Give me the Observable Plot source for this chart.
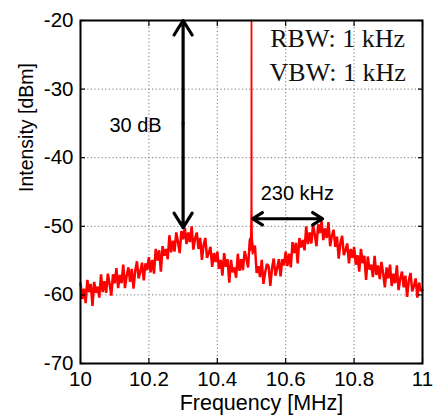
<!DOCTYPE html>
<html>
<head>
<meta charset="utf-8">
<script src="https://cdn.jsdelivr.net/npm/d3@7"></script>
<script src="https://cdn.jsdelivr.net/npm/@observablehq/plot@0.6"></script>
<style>
  html, body { margin: 0; padding: 0; background: #fff; }
  #chart svg { font-family: "Liberation Sans", Arial, sans-serif; }
</style>
</head>
<body>
<div id="chart"></div>
<script>
// Spectrum trace: 201 samples, 10.000 .. 11.000 MHz, step 5 kHz
const freqStart = 10, freqStep = 0.005;
const intensity = [
  -58.3, -60.6, -59.1, -61.2, -57.8, -59.6, -58.4, -61.6, -58.1, -59.7,
  -58.8, -60.4, -57.0, -59.6, -58.0, -59.7, -56.9, -58.4, -60.1, -57.0,
  -58.3, -56.1, -59.0, -57.1, -58.3, -55.6, -59.0, -57.2, -56.0, -58.1,
  -56.2, -59.1, -56.5, -55.1, -57.6, -56.6, -55.3, -57.9, -55.4, -56.4,
  -54.5, -56.7, -54.9, -56.9, -53.3, -55.0, -53.5, -56.6, -52.9, -54.3,
  -53.3, -54.8, -51.3, -53.8, -52.1, -53.7, -50.9, -52.3, -53.9, -50.7,
  -51.9, -50.2, -52.6, -50.9, -52.3, -50.0, -53.4, -51.8, -50.9, -53.3,
  -51.7, -54.9, -52.7, -51.7, -54.6, -53.9, -53.0, -55.9, -53.9, -55.2,
  -53.7, -56.2, -54.9, -57.2, -53.9, -55.9, -54.8, -58.2, -54.9, -56.7,
  -56.0, -57.5, -54.0, -56.5, -54.8, -56.4, -53.6, -54.7, -56.0, -52.0,
  -51.5,
  -53.9, -52.8, -56.8, -55.8, -57.4, -54.9, -58.4, -56.7, -55.5,
  -55.8, -58.7, -56.1, -54.7, -57.2, -56.1, -54.8, -57.3, -54.8, -55.7,
  -53.7, -55.8, -54.0, -56.0, -52.3, -53.9, -52.4, -55.4, -51.7, -53.1,
  -52.0, -53.5, -50.0, -52.6, -50.9, -52.5, -49.8, -51.2, -52.9, -49.7,
  -51.0, -49.2, -52.0, -50.3, -51.7, -49.4, -52.9, -51.4, -50.5, -53.0,
  -51.5, -54.7, -52.4, -51.4, -54.2, -53.5, -52.5, -55.4, -53.3, -54.6,
  -53.0, -55.6, -54.2, -56.6, -53.3, -55.4, -54.3, -57.8, -54.4, -56.3,
  -55.6, -57.4, -54.3, -57.1, -55.7, -57.7, -55.2, -56.9, -58.9, -56.0,
  -57.6, -55.6, -58.7, -56.9, -58.3, -55.7, -59.3, -57.6, -56.6, -58.9,
  -57.2, -60.3, -57.9, -56.8, -59.5, -58.7, -57.6, -60.4, -58.2, -59.4, -59.3
];

// Carrier spike at 10.5 MHz
const spikeFreq = [10.497, 10.4985, 10.4995, 10.5, 10.5005, 10.5015, 10.503];
const spikeLevel = [-53.5, -50.5, -47.0, -20.0, -47.5, -51.0, -54.0];

// Axis ticks
const xTicks = [10, 10.2, 10.4, 10.6, 10.8, 11];
const yTicks = [-70, -60, -50, -40, -30, -20];
const xTitle = "Frequency [MHz]";
const yTitle = "Intensity [dBm]";

// Annotations
const vArrow = {freq: 10.3, mid: -35, top: -20, bottom: -50.2};
const hArrow = {level: -48.9, mid: 10.605, left: 10.503, right: 10.708};
const labelText = ["30 dB", "230 kHz"];
const labelFreq = [10.161, 10.634];
const labelLevel = [-35.3, -45.2];
const bwText = ["RBW: 1 kHz", "VBW: 1 kHz"];
const bwFreq = [10.752, 10.752];
const bwLevel = [-22.6, -27.6];

const trace = intensity.map((v, i) => ({f: freqStart + i * freqStep, v}));
const spike = spikeFreq.map((f, i) => ({f, v: spikeLevel[i]}));
const arrows = [
  {x1: vArrow.freq, y1: vArrow.mid, x2: vArrow.freq, y2: vArrow.top},
  {x1: vArrow.freq, y1: vArrow.mid, x2: vArrow.freq, y2: vArrow.bottom},
  {x1: hArrow.mid, y1: hArrow.level, x2: hArrow.left, y2: hArrow.level},
  {x1: hArrow.mid, y1: hArrow.level, x2: hArrow.right, y2: hArrow.level}
];
const labels = labelText.map((t, i) => ({t, f: labelFreq[i], v: labelLevel[i]}));
const bws = bwText.map((t, i) => ({t, f: bwFreq[i], v: bwLevel[i]}));
const fmt = d => String(d);

const chart = Plot.plot({
  width: 435,
  height: 418,
  marginLeft: 80,
  marginTop: 20,
  marginRight: 13,
  marginBottom: 55,
  style: {fontFamily: "Liberation Sans, Arial, sans-serif", fontSize: "20px", color: "#000"},
  x: {domain: [10, 11], ticks: xTicks, tickFormat: fmt},
  y: {domain: [-70, -20], ticks: yTicks, tickFormat: fmt},
  marks: [
    Plot.gridX(xTicks.slice(1, -1), {stroke: "#777", strokeOpacity: 1, strokeDasharray: "1.2,2.4"}),
    Plot.gridY(yTicks.slice(1, -1), {stroke: "#777", strokeOpacity: 1, strokeDasharray: "1.2,2.4"}),
    Plot.line(trace, {x: "f", y: "v", stroke: "#ff0000", strokeWidth: 2.5, strokeLinejoin: "miter"}),
    Plot.line(spike, {x: "f", y: "v", stroke: "#ff0000", strokeWidth: 1.8}),
    Plot.arrow(arrows, {x1: "x1", y1: "y1", x2: "x2", y2: "y2", stroke: "black", strokeWidth: 3.2, headLength: 8, headAngle: 64}),
    Plot.text(labels, {x: "f", y: "v", text: "t", fontSize: 20, fill: "black", fontFamily: "Liberation Sans, Arial, sans-serif"}),
    Plot.text(bws, {x: "f", y: "v", text: "t", fontSize: 26, fill: "#111", fontFamily: "Liberation Serif, Times New Roman, serif"}),
    Plot.frame({stroke: "black", strokeWidth: 2}),
    Plot.axisX(xTicks, {anchor: "bottom", tickSize: -5, strokeWidth: 1.2, tickPadding: 13, fontSize: 20.5, tickFormat: fmt, label: null}),
    Plot.axisX(xTicks, {anchor: "top", tickSize: -5, strokeWidth: 1.2, text: null, label: null}),
    Plot.axisY(yTicks, {anchor: "left", tickSize: -5, strokeWidth: 1.2, tickPadding: 12, fontSize: 20.5, tickFormat: fmt, label: null}),
    Plot.axisY(yTicks, {anchor: "right", tickSize: -5, strokeWidth: 1.2, text: null, label: null}),
    Plot.text([xTitle], {frameAnchor: "bottom", text: d => d, dx: 10, dy: 46, fontSize: 21.5, fill: "black"}),
    Plot.text([yTitle], {frameAnchor: "left", text: d => d, rotate: -90, dx: -54, fontSize: 19.5, fill: "black"})
  ]
});
document.getElementById("chart").appendChild(chart);
</script>
</body>
</html>
